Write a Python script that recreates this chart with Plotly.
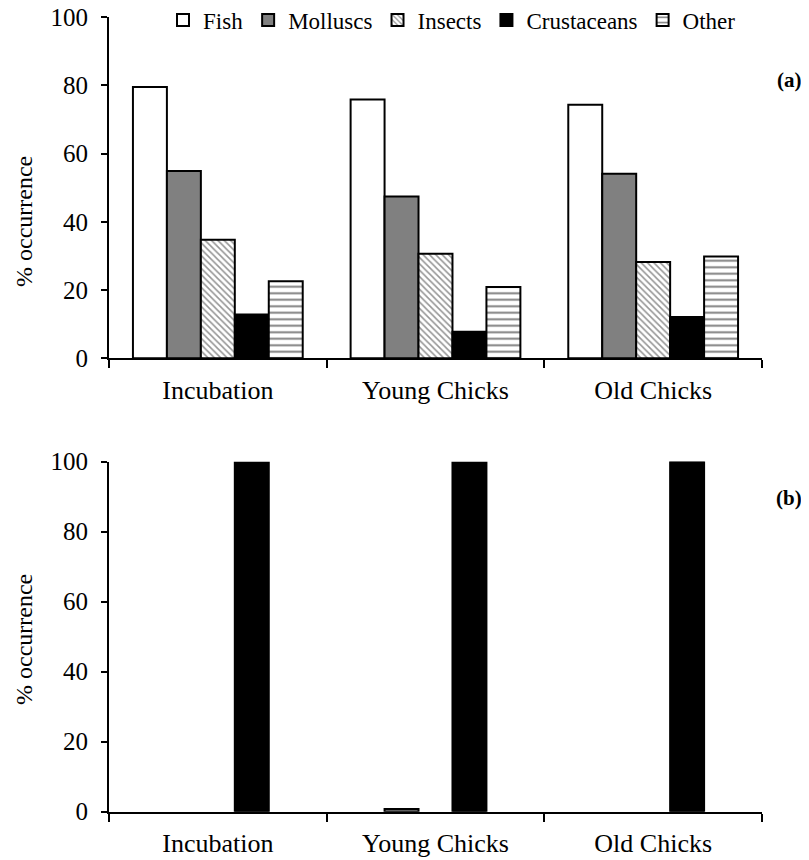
import plotly.graph_objects as go

stages = ["Incubation", "Young Chicks", "Old Chicks"]
prey = ["Fish", "Molluscs", "Insects", "Crustaceans", "Other"]

# panel (a)
a_fish = [79.5, 75.8, 74.3]
a_molluscs = [54.9, 47.4, 54.1]
a_insects = [34.7, 30.6, 28.2]
a_crustaceans = [12.8, 7.8, 12.1]
a_other = [22.6, 20.9, 29.8]

# panel (b)
b_fish = [0, 0, 0]
b_molluscs = [0, 0.8, 0]
b_insects = [0, 0, 0]
b_crustaceans = [99.7, 99.7, 99.9]
b_other = [0, 0, 0]

y_ticks = [0, 20, 40, 60, 80, 100]
y_title = "% occurrence"

FONT = "Liberation Serif, Times New Roman, serif"

# page has an 8px body margin; figure is sized to fit the window
W, H = 801, 852


def xp(px):
    return (px - 8) / W


def yp(py):
    return 1 - (py - 8) / H


styles = {
    "Fish": dict(color="white", pattern=None),
    "Molluscs": dict(color="#808080", pattern=None),
    "Insects": dict(color="white", pattern=dict(shape="\\", fgcolor="#2a2a2a", bgcolor="white", size=4.5, solidity=0.35, fillmode="overlay")),
    "Crustaceans": dict(color="black", pattern=None),
    "Other": dict(color="white", pattern=dict(shape="-", fgcolor="black", bgcolor="white", size=6.5, solidity=0.3, fillmode="overlay")),
}

series_a = dict(zip(prey, [a_fish, a_molluscs, a_insects, a_crustaceans, a_other]))
series_b = dict(zip(prey, [b_fish, b_molluscs, b_insects, b_crustaceans, b_other]))


def make_marker(name, values):
    st = styles[name]
    m = dict(color=st["color"],
             line=dict(color="black", width=[0 if v == 0 else 2 for v in values]))
    if st["pattern"]:
        m["pattern"] = st["pattern"]
    return m


fig = go.Figure()
for name in prey:
    fig.add_trace(go.Bar(x=stages, y=series_a[name], name=name, marker=make_marker(name, series_a[name]),
                         xaxis="x", yaxis="y", legendgroup=name, showlegend=True))
for name in prey:
    fig.add_trace(go.Bar(x=stages, y=series_b[name], name=name, marker=make_marker(name, series_b[name]),
                         xaxis="x2", yaxis="y2", legendgroup=name, showlegend=False))

xdom = [xp(109), xp(762)]
common_x = dict(
    domain=xdom, type="category", range=[-0.5, 2.5], showline=True, linecolor="black",
    linewidth=2, ticks="outside", tickson="boundaries", ticklen=8, tickwidth=2,
    tickcolor="black", showgrid=False, zeroline=False, automargin=False,
    tickfont=dict(family=FONT, size=26, color="black"), ticklabelstandoff=7,
    ticklabeloverflow="allow",
)
common_y = dict(
    range=[0, 100], tickvals=y_ticks, showline=True, linecolor="black", linewidth=2,
    ticks="outside", ticklen=6, tickwidth=2, tickcolor="black", showgrid=False,
    zeroline=False, automargin=False, tickfont=dict(family=FONT, size=25, color="black"),
    ticklabelstandoff=8, ticklabeloverflow="allow",
)

title_font = dict(family=FONT, size=24, color="black")

fig.update_layout(
    width=W, height=H,
    margin=dict(l=0, r=0, t=0, b=0, autoexpand=False),
    paper_bgcolor="white", plot_bgcolor="white",
    barmode="group", bargap=0.22, bargroupgap=0,
    font=dict(family=FONT, color="black"),
    xaxis=dict(common_x, anchor="y"),
    yaxis=dict(common_y, domain=[yp(358.3), yp(17)], anchor="x"),
    xaxis2=dict(common_x, anchor="y2"),
    yaxis2=dict(common_y, domain=[yp(811.7), yp(461.5)], anchor="x2"),
    legend=dict(orientation="h", x=xp(163), xanchor="left", y=yp(20), yanchor="middle",
                font=dict(family=FONT, size=23, color="black"), itemwidth=30,
                traceorder="normal", bgcolor="rgba(0,0,0,0)"),
    showlegend=True,
    annotations=[
        dict(text=y_title, x=xp(24), y=yp(222), xref="paper", yref="paper", textangle=-90,
             xanchor="center", yanchor="middle", showarrow=False, font=title_font),
        dict(text=y_title, x=xp(24), y=yp(640), xref="paper", yref="paper", textangle=-90,
             xanchor="center", yanchor="middle", showarrow=False, font=title_font),
        dict(text="<b>(a)</b>", x=xp(789), y=yp(80), xref="paper", yref="paper",
             xanchor="center", yanchor="middle",
             showarrow=False, font=dict(family=FONT, size=21, color="black")),
        dict(text="<b>(b)</b>", x=xp(789), y=yp(498), xref="paper", yref="paper",
             xanchor="center", yanchor="middle",
             showarrow=False, font=dict(family=FONT, size=21, color="black")),
    ],
)

fig.write_html("out.html")
